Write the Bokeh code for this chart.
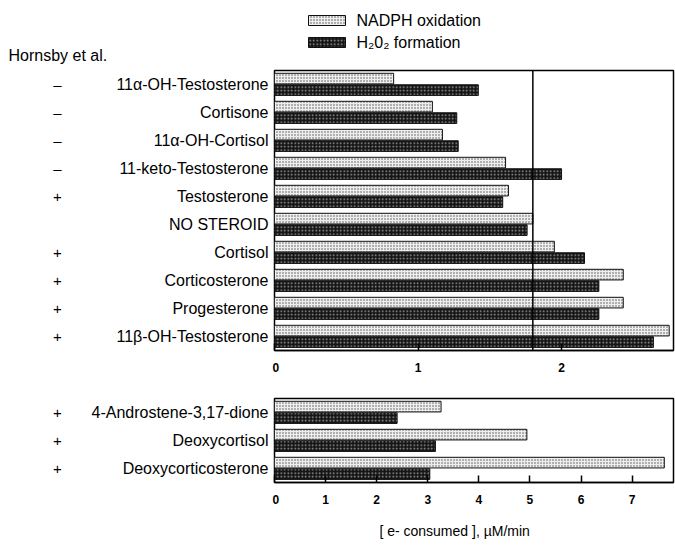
from bokeh.plotting import figure
from bokeh.layouts import column, row
from bokeh.models import Range1d, FixedTicker, Span
from bokeh.core.properties import value
from bokeh.embed import file_html
from bokeh.resources import INLINE

# ---------------- data ----------------
top_steroids = ["11α-OH-Testosterone", "Cortisone", "11α-OH-Cortisol",
                "11-keto-Testosterone", "Testosterone", "NO STEROID", "Cortisol",
                "Corticosterone", "Progesterone", "11β-OH-Testosterone"]
top_nadph = [0.83, 1.10, 1.17, 1.61, 1.63, 1.80, 1.95, 2.43, 2.43, 2.75]
top_h2o2 = [1.42, 1.27, 1.28, 2.00, 1.59, 1.76, 2.16, 2.26, 2.26, 2.64]
top_signs = ["–", "–", "–", "–", "+", "", "+", "+", "+", "+"]
top_xticks = [0, 1, 2]
top_xmax = 2.78

bot_steroids = ["4-Androstene-3,17-dione", "Deoxycortisol", "Deoxycorticosterone"]
bot_nadph = [3.26, 4.94, 7.63]
bot_h2o2 = [2.40, 3.15, 3.04]
bot_signs = ["+", "+", "+"]
bot_xticks = [0, 1, 2, 3, 4, 5, 6, 7]
bot_xmax = 7.81

legend_labels = ["NADPH oxidation", "H₂0₂ formation"]
source_label = "Hornsby et al."
x_label = "[ e-  consumed ],  µM/min"

# ---------------- styles ----------------
FONT = "Liberation Sans"
LIGHT = dict(fill_color="#eeeeee", hatch_pattern="dot", hatch_color="#505050",
             hatch_scale=3, hatch_weight=1, line_color="#111111", line_width=1)
DARK = dict(fill_color="#151515", hatch_pattern="dot", hatch_color="#a0a0a0",
            hatch_scale=3.5, hatch_weight=1, line_color="#111111", line_width=1)

W = 675
LEFT_W = 272          # width of the text column
PLOT_W = W - LEFT_W   # plot figure width
PAD_L = 2
PAD_R = 2
ROW_PX = 28
LEG_H = 64


def bare(width, height, xr, yr, btop=0, bbottom=0):
    f = figure(width=width, height=height, x_range=xr, y_range=yr,
               output_backend="svg", toolbar_location=None, min_border=0,
               min_border_top=btop, min_border_bottom=bbottom)
    f.axis.visible = False
    f.grid.visible = False
    f.outline_line_color = None
    return f


def panel(names, nadph, h2o2, signs, ticks, xmax, btop, bbottom, ref=None):
    n = len(names)
    centers = [n - 0.5 - i for i in range(n)]
    height = btop + n * ROW_PX + bbottom
    p = figure(width=PLOT_W, height=height, x_range=Range1d(0, xmax),
               y_range=Range1d(0, n), output_backend="svg", toolbar_location=None,
               min_border_left=PAD_L, min_border_right=PAD_R,
               min_border_top=btop, min_border_bottom=bbottom)
    p.outline_line_color = "black"
    p.outline_line_width = 1.5
    p.grid.visible = False
    p.yaxis.visible = False

    p.hbar(y=[c + 0.21 for c in centers], left=0, right=nadph, height=0.38, **LIGHT)
    p.hbar(y=[c - 0.2 for c in centers], left=0, right=h2o2, height=0.38, **DARK)

    if ref is not None:
        p.add_layout(Span(location=ref, dimension="height", line_color="black",
                          line_width=1.5))

    xa = p.xaxis[0]
    xa.ticker = FixedTicker(ticks=ticks)
    xa.major_tick_in = 7
    xa.major_tick_out = 0
    xa.minor_tick_line_color = None
    xa.axis_line_width = 1.5
    xa.major_tick_line_width = 1.5
    xa.major_label_text_font = FONT
    xa.major_label_text_font_style = "bold"
    xa.major_label_text_font_size = "12px"
    xa.major_label_text_color = "black"
    xa.major_label_standoff = 12

    # text column; its frame is aligned with the plot frame by the row layout
    lab = bare(LEFT_W, height, Range1d(0, LEFT_W), Range1d(0, n),
               btop=btop, bbottom=bbottom)
    lab.text(x=[LEFT_W - 4] * n, y=centers, text=names, text_align="right",
             text_baseline="middle", text_font=value(FONT), text_font_size="16px",
             text_color="black")
    sx = [57 for s in signs if s]
    sy = [c for c, s in zip(centers, signs) if s]
    st = [s for s in signs if s]
    lab.text(x=sx, y=sy, text=st, text_align="center", text_baseline="middle",
             text_font=value(FONT), text_font_size="15px", text_color="black")
    return row(lab, p)


# legend strip (top 64 px), with the source note
leg = bare(W, LEG_H, Range1d(0, W), Range1d(LEG_H, 0))
leg.quad(left=[308], right=[345], top=[15], bottom=[25], **LIGHT)
leg.quad(left=[308], right=[345], top=[37], bottom=[47], **DARK)
leg.text(x=[356, 356], y=[20, 42], text=legend_labels, text_baseline="middle",
         text_font=value(FONT), text_font_size="16px", text_color="black")
leg.text(x=[8], y=[55], text=[source_label], text_baseline="middle",
         text_font=value(FONT), text_font_size="16px", text_color="black")

# top panel: frame from y=70 to 350
top_row = panel(top_steroids, top_nadph, top_h2o2, top_signs, top_xticks, top_xmax,
                btop=70 - LEG_H, bbottom=30, ref=top_nadph[5])
# bottom panel: frame from y=398 to 482
bot_row = panel(bot_steroids, bot_nadph, bot_h2o2, bot_signs, bot_xticks, bot_xmax,
                btop=18, bbottom=30)

# x-axis title strip
xl_h = 545 - LEG_H - (70 - LEG_H + 280 + 30) - (18 + 84 + 30)
xl = bare(W, xl_h, Range1d(0, W), Range1d(xl_h, 0))
xl.text(x=[458], y=[18], text=[x_label], text_align="center", text_baseline="middle",
        text_font=value(FONT), text_font_size="14px", text_color="black")

layout = column(leg, top_row, bot_row, xl)
open("out.html", "w").write(file_html(layout, INLINE))
